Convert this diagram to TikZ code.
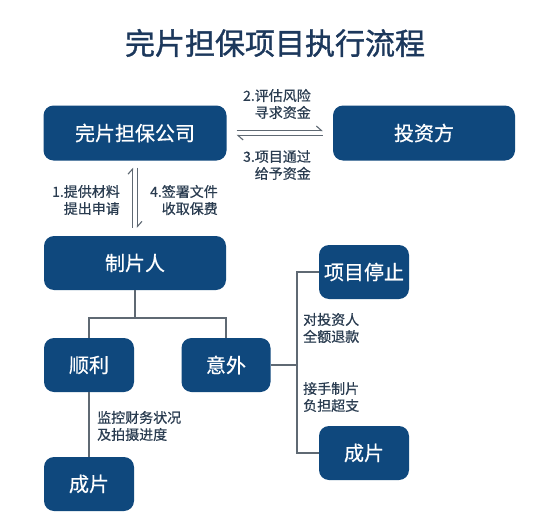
\documentclass[tikz,border=0pt]{standalone}
\usepackage{fontspec}
\usepackage{xcolor}
\usepackage{tikz}
\usetikzlibrary{positioning,arrows.meta}
\newfontfamily\cjk{Noto Sans CJK SC}
\newfontfamily\cjkmed{Noto Sans CJK SC}[FakeBold=0.6]
\newfontfamily\cjktitle{Noto Sans CJK SC}[FakeBold=1.2]
\definecolor{boxblue}{RGB}{15,72,125}
\definecolor{titleblue}{RGB}{28,56,92}
\definecolor{labelgray}{RGB}{42,60,80}
\definecolor{linegray}{RGB}{95,105,115}

\begin{document}
\begin{tikzpicture}[
    x=1pt, y=-1pt,
    titlenode/.style={font=\cjktitle\fontsize{30}{34}\selectfont, text=titleblue},
    boxnode/.style={fill=boxblue, rounded corners=10pt, text=white, font=\cjkmed\fontsize{20}{24}\selectfont, minimum height=55pt, inner sep=0pt},
    labelnode/.style={font=\cjkmed\fontsize{14}{17}\selectfont, text=labelgray, inner sep=0pt},
    harp/.style={-{Straight Barb[harpoon, length=5pt, width=9pt]}, line width=1.1pt, linegray},
    link/.style={line width=1.4pt, linegray}
]

\useasboundingbox (0,0) rectangle (550,525);
\fill[white] (0,0) rectangle (550,525);

% Title
\node[titlenode] (title) at (275,43) {完片担保项目执行流程};

% Main boxes
\node[boxnode, minimum width=183pt] (wpdb) at (135,133) {完片担保公司};
\node[boxnode, minimum width=182pt] (tzf) at (424,133) {投资方};
\node[boxnode, minimum width=182pt, minimum height=54pt] (zpr) at (135,263) {制片人};

% Outcome boxes
\node[boxnode, minimum width=90pt, minimum height=54pt] (shunli) at (89,365) {顺利};
\node[boxnode, minimum width=89pt, minimum height=54pt] (yiwai) at (226,365) {意外};
\node[boxnode, minimum width=90pt, minimum height=54pt] (tingzhi) at (364,272) {项目停止};
\node[boxnode, minimum width=90pt, minimum height=54pt] (cpleft) at (89,484) {成片};
\node[boxnode, minimum width=90pt, minimum height=54pt] (cpright) at (364,453) {成片};

% Harpoons between guarantor and investor
\draw[harp] ([shift={(10pt,2.5pt)}]wpdb.east) -- ([shift={(-10pt,2.5pt)}]tzf.west);
\draw[harp] ([shift={(-10pt,-2.5pt)}]tzf.west) -- ([shift={(10pt,-2.5pt)}]wpdb.east);

% Harpoons between guarantor and producer
\draw[harp] ([shift={(-2.5pt,8pt)}]zpr.north) -- ([shift={(-2.5pt,-7pt)}]wpdb.south);
\draw[harp] ([shift={(2.5pt,-7pt)}]wpdb.south) -- ([shift={(2.5pt,8pt)}]zpr.north);

% Step labels
\node[labelnode, anchor=east, align=right] (step2) at (311,104) {2.评估风险\\寻求资金};
\node[labelnode, anchor=east, align=right] (step3) at (311,165) {3.项目通过\\给予资金};
\node[labelnode, anchor=east, align=right] (step1) at (120,200) {1.提供材料\\提出申请};
\node[labelnode, anchor=east, align=right] (step4) at (218,200) {4.签署文件\\收取保费};

% Tree connectors
\coordinate (fork) at (135,318);
\coordinate (split) at (297,365);
\draw[link] (zpr.south) -- (fork);
\draw[link] (shunli.north) |- (fork) -| (yiwai.north);
\draw[link] (shunli.south) -- (cpleft.north);
\draw[link] (yiwai.east) -- (split);
\draw[link] (tingzhi.west) -| (split) |- (cpright.west);

% Branch labels
\node[labelnode, anchor=west, align=left] (jiankong) at (97,426) {监控财务状况\\及拍摄进度};
\node[labelnode, anchor=west, align=left] (tuikuan) at (303,328) {对投资人\\全额退款};
\node[labelnode, anchor=west, align=left] (jieshou) at (303,397) {接手制片\\负担超支};

\end{tikzpicture}
\end{document}
